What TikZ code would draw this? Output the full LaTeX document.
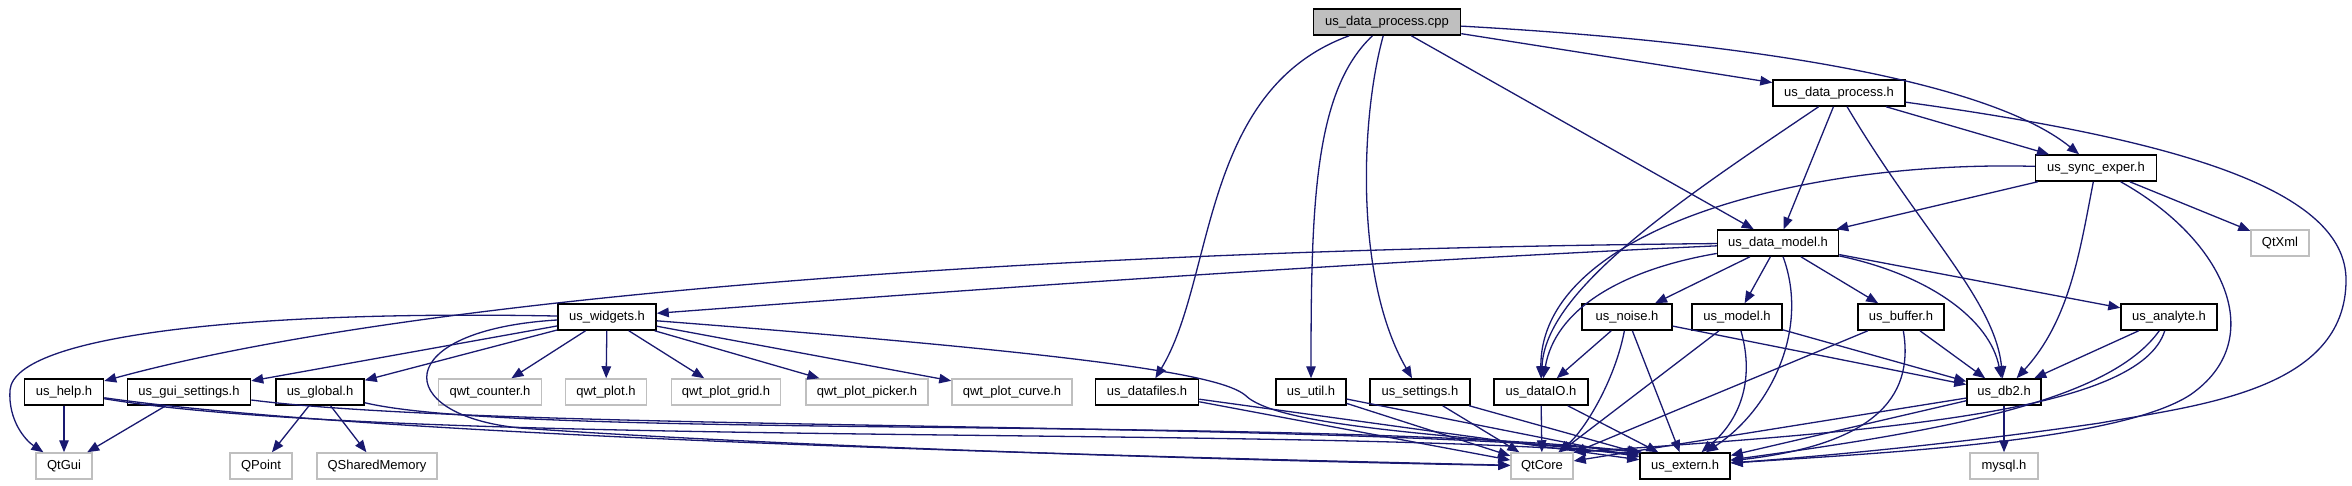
\documentclass[tikz,border=0pt]{standalone}
\usepackage{fontspec}
\setmainfont{Liberation Sans}
\usetikzlibrary{arrows.meta,positioning}
\definecolor{depblue}{HTML}{191970}
\definecolor{extgray}{HTML}{BFBFBF}
\definecolor{rootgray}{HTML}{BFBFBF}
\begin{document}
\begin{tikzpicture}[x=1pt,y=-1pt,
  file/.style={draw=black,line width=1.5pt,fill=white,minimum height=26pt,
               inner sep=0pt,font=\fontsize{13}{15}\selectfont},
  ext/.style={file,draw=extgray},
  root/.style={file,fill=rootgray},
  dep/.style={depblue,line width=1.3pt,-{Triangle[length=12pt,width=9.5pt]}}
]
\useasboundingbox (0,0) rectangle (2352,485);
\node[root,minimum width=147pt] (cpp) at (1387,22) {us\_data\_process.cpp};
\foreach \n/\x/\y/\w/\t in {dph/1839/93/132/us\_data\_process.h,
  sync/2096/168/121/us\_sync\_exper.h, dmodel/1778/243/121/us\_data\_model.h,
  widgets/607/317/98/us\_widgets.h, noise/1627/317/90/us\_noise.h,
  model/1737/317/90/us\_model.h, buffer/1901/317/86/us\_buffer.h,
  analyte/2169/317/96/us\_analyte.h, help/64/392/79/us\_help.h,
  guiset/189/392/123/us\_gui\_settings.h, global/320/392/88/us\_global.h,
  datafiles/1147/392/103/us\_datafiles.h, util/1311/392/70/us\_util.h,
  settings/1420/392/100/us\_settings.h, dataio/1541/392/94/us\_dataIO.h,
  db2/2004/392/74/us\_db2.h, extern/1685/466/90/us\_extern.h}{
  \node[file,minimum width=\w pt] (\n) at (\x,\y) {\t};
}
\foreach \n/\x/\y/\w/\t in {qtxml/2280/243/58/QtXml,
  qcounter/490/392/103/qwt\_counter.h, qplot/606/392/81/qwt\_plot.h,
  qgrid/726/392/109/qwt\_plot\_grid.h, qpicker/867/392/122/qwt\_plot\_picker.h,
  qcurve/1012/392/120/qwt\_plot\_curve.h, qtgui/64/466/56/QtGui,
  qpoint/261/466/62/QPoint, qshm/377/466/120/QSharedMemory,
  qtcore/1542/466/62/QtCore, mysql/2004/466/68/mysql.h}{
  \node[ext,minimum width=\w pt] (\n) at (\x,\y) {\t};
}
\foreach \a/\b in {cpp/dph,cpp/dmodel,dph/sync,dph/dmodel,sync/dmodel,sync/qtxml,
  dmodel/noise,dmodel/model,dmodel/buffer,dmodel/analyte,
  widgets/guiset,widgets/global,widgets/qcounter,widgets/qplot,widgets/qgrid,
  widgets/qpicker,widgets/qcurve,help/qtgui,guiset/qtgui,global/qpoint,global/qshm,
  datafiles/qtcore,datafiles/extern,util/qtcore,util/extern,settings/qtcore,
  settings/extern,dataio/qtcore,dataio/extern,noise/dataio,noise/extern,noise/db2,
  model/qtcore,model/db2,buffer/qtcore,buffer/db2,analyte/db2,db2/mysql,
  db2/qtcore,db2/extern}{
  \draw[dep] (\a) -- (\b);
}
\draw[dep] (cpp) .. controls (1800,45) and (2000,90) .. (sync);
\draw[dep] (cpp) .. controls (1200,90) and (1215,280) .. (datafiles);
\draw[dep] (cpp) .. controls (1315,90) and (1311,200) .. (util);
\draw[dep] (cpp) .. controls (1360,120) and (1355,280) .. (settings);
\draw[dep] (dph) .. controls (1680,200) and (1545,290) .. (dataio);
\draw[dep] (dph) .. controls (1920,230) and (1995,300) .. (db2);
\draw[dep] (dph) .. controls (2180,140) and (2346,190) .. (2346,280)
  .. controls (2346,390) and (2200,405) .. (2100,423)
  .. controls (1950,445) and (1800,458) .. (extern);
\draw[dep] (sync) .. controls (1800,160) and (1540,230) .. (dataio);
\draw[dep] (sync) .. controls (2080,250) and (2070,320) .. (db2);
\draw[dep] (sync) .. controls (2225,240) and (2270,340) .. (2190,395)
  .. controls (2120,440) and (1900,452) .. (extern);
\draw[dep] (dmodel) .. controls (1300,265) and (900,295) .. (widgets);
\draw[dep] (dmodel) .. controls (1000,250) and (400,300) .. (help);
\draw[dep] (dmodel) .. controls (1620,270) and (1555,310) .. (dataio);
\draw[dep] (dmodel) .. controls (1810,330) and (1770,410) .. (extern);
\draw[dep] (dmodel) .. controls (1930,275) and (1990,320) .. (db2);
\draw[dep] (widgets) .. controls (250,310) and (15,335) .. (10,390)
  .. controls (8,420) and (25,440) .. (qtgui);
\draw[dep] (widgets) .. controls (390,330) and (390,415) .. (520,428)
  .. controls (800,448) and (1300,462) .. (qtcore);
\draw[dep] (widgets) .. controls (1100,355) and (1220,375) .. (1245,395)
  .. controls (1280,430) and (1480,435) .. ([yshift=-4pt]extern.north west);
\draw[dep] (help) .. controls (400,440) and (1200,458) .. (qtcore);
\draw[dep] (help) .. controls (400,448) and (1300,425) .. ([yshift=-2pt]extern.north west);
\draw[dep] (guiset) .. controls (500,432) and (1300,420) .. (extern.north west);
\draw[dep] (global) .. controls (520,440) and (1300,415) .. ([xshift=3pt]extern.north west);
\draw[dep] (noise) .. controls (1615,380) and (1585,430) .. (qtcore);
\draw[dep] (model) .. controls (1755,380) and (1740,420) .. (extern);
\draw[dep] (buffer) .. controls (1915,400) and (1870,445) .. (extern);
\draw[dep] (analyte) .. controls (2110,400) and (1950,430) .. (extern);
\draw[dep] (analyte) .. controls (2140,410) and (1900,430) .. (qtcore.north east);
\end{tikzpicture}
\end{document}
